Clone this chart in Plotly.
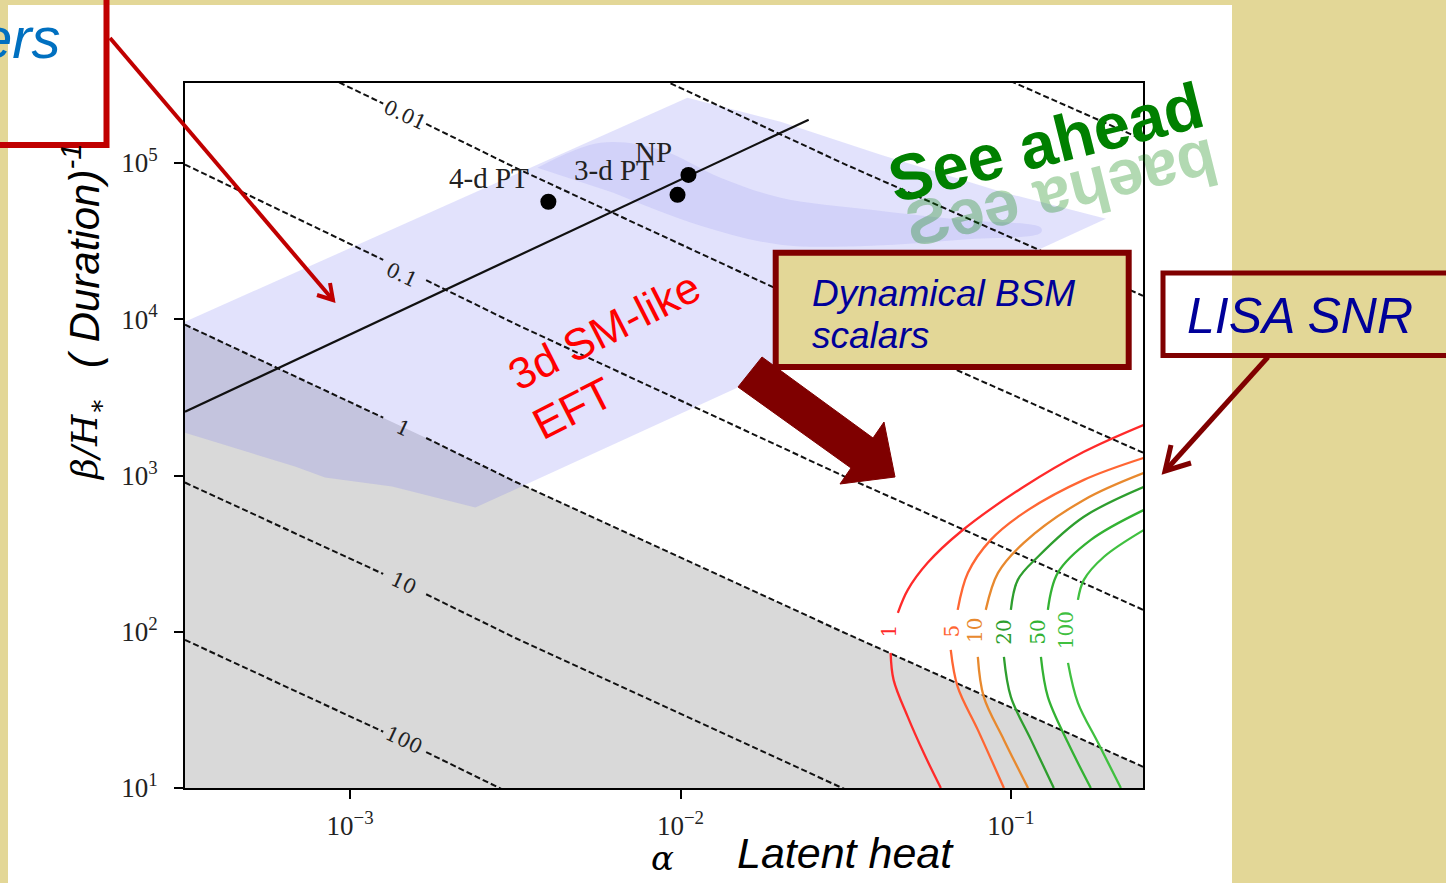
import plotly.graph_objects as go

W, H = 1446, 883
PLOT_L, PLOT_R, PLOT_T, PLOT_B = 185, 1143, 83, 788

# ---------------- data (log10 values) ----------------
X_RANGE = [-3.5, -0.6]      # log10(alpha)
Y_RANGE = [1.0, 5.512]      # log10(beta/H*)

x_tickvals = [1e-3, 1e-2, 1e-1]
x_ticktext = ["10<sup>−3</sup>", "10<sup>−2</sup>", "10<sup>−1</sup>"]
y_tickvals = [1e1, 1e2, 1e3, 1e4, 1e5]
y_ticktext = ["10<sup>1</sup>", "10<sup>2</sup>", "10<sup>3</sup>", "10<sup>4</sup>", "10<sup>5</sup>"]

# dashed lines of constant H*tau_sh (gap where the label sits)
tau_x_gap = [-3.5, -2.9, None, -2.77, -2.5, -1.5, -0.6]
tau_001_y = [5.99, 5.38, None, 5.25, 4.97, 3.99, 3.146]
tau_01_y = [4.99, 4.38, None, 4.25, 3.97, 2.99, 2.141]
tau_1_y = [3.965, 3.37, None, 3.24, 2.96, 1.99, 1.136]
tau_10_x = [-3.5, -2.9, None, -2.77, -2.5, -1.5]
tau_10_y = [2.955, 2.37, None, 2.24, 1.96, 0.99]
tau_100_x = [-3.5, -2.9, None, -2.77, -2.5]
tau_100_y = [1.948, 1.36, None, 1.23, 0.95]
tau_0001_x = [-2.5, -1.5, -0.6]
tau_0001_y = [5.97, 4.99, 4.15]
tau_00001_x = [-1.5, -0.6]
tau_00001_y = [5.99, 5.15]

tau_label_text = ["0.01", "0.1", "1", "10", "100"]
tau_label_x = [-2.833, -2.842, -2.839, -2.839, -2.836]
tau_label_y = [5.309, 4.285, 3.305, 2.313, 1.308]

# solid line
solid_x = [-3.5, -1.612]
solid_y = [3.408, 5.277]

# benchmark points
pt_x = [-2.400, -2.009, -1.976]
pt_y = [4.752, 4.796, 4.924]
pt_label_text = ["4-d PT", "3-d PT", "NP"]
pt_label_x = [-2.579, -2.200, -2.082]
pt_label_y = [4.906, 4.956, 5.072]

# blue (3d SM-like EFT) region
blue_x = [-3.5, -1.979, -1.697, -1.394, -1.030, -0.712, -2.455, -2.621, -2.873, -3.076, -3.167, -3.5]
blue_y = [3.984, 5.418, 5.264, 5.053, 4.816, 4.643, 2.955, 2.795, 2.929, 2.987, 3.057, 3.274]
band_x = [-2.433, -2.242, -2.061, -1.879, -1.697, -1.424, -1.152, -0.909,
          -0.909, -1.152, -1.424, -1.697, -1.939, -2.203]
band_y = [4.970, 5.130, 5.085, 4.906, 4.778, 4.701, 4.637, 4.586,
          4.554, 4.509, 4.471, 4.477, 4.599, 4.810]

# LISA SNR contours: upper arm, lower arm
snr_labels = ["1", "5", "10", "20", "50", "100"]
snr_colors = ["#ff2a2a", "#ff6633", "#e8892e", "#2e9e2e", "#33b233", "#40c040"]
snr_up_x = [[-0.597, -0.779, -0.961, -1.152, -1.252, -1.312, -1.342],
            [-0.597, -0.779, -0.961, -1.061, -1.130, -1.161],
            [-0.597, -0.779, -0.961, -1.039, -1.076],
            [-0.597, -0.779, -0.918, -0.979, -1.000],
            [-0.597, -0.758, -0.858, -0.888],
            [-0.597, -0.718, -0.779, -0.797]]
snr_up_y = [[3.325, 3.152, 2.928, 2.640, 2.441, 2.268, 2.121],
            [3.113, 2.972, 2.761, 2.588, 2.377, 2.140],
            [3.017, 2.844, 2.569, 2.377, 2.140],
            [2.928, 2.736, 2.480, 2.332, 2.140],
            [2.780, 2.588, 2.377, 2.140],
            [2.652, 2.480, 2.332, 2.204]]
snr_lo_x = [[-1.364, -1.355, -1.312, -1.264, -1.212],
            [-1.182, -1.161, -1.100, -1.021],
            [-1.100, -1.082, -1.021, -0.948],
            [-1.021, -1.000, -0.939, -0.870],
            [-0.909, -0.888, -0.827, -0.758],
            [-0.827, -0.797, -0.736, -0.667]]
snr_lo_y = [[1.865, 1.692, 1.455, 1.225, 1.0],
            [1.884, 1.647, 1.372, 1.0],
            [1.839, 1.583, 1.308, 1.0],
            [1.839, 1.583, 1.308, 1.0],
            [1.839, 1.583, 1.289, 1.0],
            [1.801, 1.545, 1.289, 1.0]]
snr_label_x = [-1.370, -1.179, -1.109, -1.021, -0.918, -0.833]
snr_label_y = [2.006, 2.006, 2.010, 2.000, 2.000, 2.010]


# ---------------- helpers ----------------
def p10(vals):
    return [None if v is None else 10 ** v for v in vals]


def fx(x):
    return x / W


def fy(y):
    return 1 - y / H


def path(points, close=False):
    s = " ".join(("M" if i == 0 else "L") + f" {fx(x):.5f},{fy(y):.5f}" for i, (x, y) in enumerate(points))
    return s + (" Z" if close else "")


fig = go.Figure()

# grey region below the H*tau = 1 line
g_x = [v for v in tau_x_gap if v is not None] + [X_RANGE[1], X_RANGE[0]]
g_y = [v for v in tau_1_y if v is not None] + [Y_RANGE[0], Y_RANGE[0]]
fig.add_trace(go.Scatter(x=p10(g_x), y=p10(g_y), fill="toself", fillcolor="#d9d9d9",
                         mode="lines", line=dict(width=0), hoverinfo="skip"))
fig.add_trace(go.Scatter(x=p10(blue_x), y=p10(blue_y), fill="toself", fillcolor="rgba(120,120,240,0.21)",
                         mode="lines", line=dict(width=0), hoverinfo="skip"))
fig.add_trace(go.Scatter(x=p10(band_x), y=p10(band_y), fill="toself", fillcolor="rgba(130,130,240,0.17)",
                         mode="lines", line=dict(width=0, shape="spline"), hoverinfo="skip"))

dash_style = dict(color="#111111", width=2, dash="6px,3px")
for xs, ys in [(tau_x_gap, tau_001_y), (tau_x_gap, tau_01_y), (tau_x_gap, tau_1_y),
               (tau_10_x, tau_10_y), (tau_100_x, tau_100_y),
               (tau_0001_x, tau_0001_y), (tau_00001_x, tau_00001_y)]:
    fig.add_trace(go.Scatter(x=p10(xs), y=p10(ys), mode="lines", line=dash_style, hoverinfo="skip"))

fig.add_trace(go.Scatter(x=p10(solid_x), y=p10(solid_y), mode="lines",
                         line=dict(color="#111111", width=2.2), hoverinfo="skip"))

for i in range(len(snr_labels)):
    for xs, ys in [(snr_up_x[i], snr_up_y[i]), (snr_lo_x[i], snr_lo_y[i])]:
        fig.add_trace(go.Scatter(x=p10(xs), y=p10(ys), mode="lines",
                                 line=dict(color=snr_colors[i], width=2.3, shape="spline", smoothing=1.0),
                                 hoverinfo="skip"))

fig.add_trace(go.Scatter(x=p10(pt_x), y=p10(pt_y), mode="markers",
                         marker=dict(color="black", size=16), hoverinfo="skip"))

annotations = []
for t, x, y in zip(tau_label_text, tau_label_x, tau_label_y):
    annotations.append(dict(x=x, y=y, xref="x", yref="y", text=t, showarrow=False, textangle=25,
                            font=dict(family="DejaVu Serif", size=20, color="#222")))
for t, x, y, c in zip(snr_labels, snr_label_x, snr_label_y, snr_colors):
    annotations.append(dict(x=x, y=y, xref="x", yref="y", text=t, showarrow=False, textangle=-90,
                            font=dict(family="DejaVu Serif", size=20, color=c)))
for t, x, y in zip(pt_label_text, pt_label_x, pt_label_y):
    annotations.append(dict(x=x, y=y, xref="x", yref="y", text=t, showarrow=False,
                            font=dict(family="Liberation Serif", size=29, color="#222")))


def txt(text, x, y, size, color, family="Liberation Sans", style="italic", weight="normal",
        angle=0, xanchor="center"):
    annotations.append(dict(x=fx(x), y=fy(y), xref="paper", yref="paper", text=text, showarrow=False,
                            textangle=angle, xanchor=xanchor, yanchor="middle",
                            font=dict(family=family, size=size, color=color, style=style, weight=weight)))


txt("ers", 63, 38, 58, "#0070C0", xanchor="right")
txt("( Duration)<sup>-1</sup>", 81, 256, 42, "black", angle=-90)
txt("β/H<sub>∗</sub>", 87, 440, 36, "black", family="DejaVu Serif", angle=-90)
txt("α", 662, 858, 34, "black", family="DejaVu Serif")
txt("Latent heat", 845, 853, 43, "black")
txt("Dynamical BSM", 810, 293, 37, "#000099", xanchor="left")
txt("scalars", 810, 335, 37, "#000099", xanchor="left")
txt("LISA SNR", 1185, 316, 50, "#000099", xanchor="left")
txt("3d SM-like", 604, 330, 44, "#ff0000", style="normal", angle=-27)
txt("EFT", 572, 408, 44, "#ff0000", style="normal", angle=-27)
txt("Ƨǝǝ ɐɥǝɐq", 1060, 188, 64, "rgba(0,128,0,0.30)", family="Liberation Sans, DejaVu Sans",
    style="normal", weight="bold", angle=-14)
txt("See ahead", 1046, 142, 65, "#008000", style="normal", weight="bold", angle=-14)

shapes = [
    dict(type="rect", xref="paper", yref="paper", x0=fx(8), x1=fx(1232), y0=fy(5), y1=fy(895),
         fillcolor="white", line=dict(width=0), layer="below"),
    # red box + arrow (top-left)
    dict(type="rect", xref="paper", yref="paper", x0=fx(-10), x1=fx(106.5), y0=fy(-10), y1=fy(145),
         line=dict(color="#C00000", width=6), layer="above"),
    dict(type="path", xref="paper", yref="paper", path=path([(110, 38), (333, 300)]),
         line=dict(color="#C00000", width=4), layer="above"),
    dict(type="path", xref="paper", yref="paper", path=path([(330, 283), (333, 300), (317, 295)]),
         line=dict(color="#C00000", width=4), layer="above"),
    # thick dark red block arrow
    dict(type="path", xref="paper", yref="paper",
         path=path([(762, 357), (873, 438), (884, 422), (895, 477), (840, 484), (851, 468), (738, 387)], True),
         fillcolor="#7F0000", line=dict(color="#7F0000", width=1), layer="above"),
    # Dynamical BSM box
    dict(type="rect", xref="paper", yref="paper", x0=fx(775.7), x1=fx(1128.7), y0=fy(252.7), y1=fy(367),
         fillcolor="#E3D797", line=dict(color="#800000", width=6), layer="above"),
    # LISA SNR box + arrow
    dict(type="rect", xref="paper", yref="paper", x0=fx(1163), x1=fx(1452), y0=fy(273), y1=fy(355.5),
         line=dict(color="#800000", width=5), layer="above"),
    dict(type="path", xref="paper", yref="paper", path=path([(1268, 357), (1166, 470)]),
         line=dict(color="#800000", width=5), layer="above"),
    dict(type="path", xref="paper", yref="paper", path=path([(1171, 445), (1165, 471), (1191, 463)]),
         line=dict(color="#800000", width=5), layer="above"),
]

axis_common = dict(type="log", showgrid=False, zeroline=False, showline=True, linecolor="black",
                   linewidth=2, mirror=True, ticks="outside", ticklen=9, tickwidth=2, tickcolor="black",
                   tickmode="array", automargin=False,
                   tickfont=dict(family="Liberation Serif", size=27, color="#222"))

fig.update_layout(
    width=W, height=H, autosize=False,
    margin=dict(l=0, r=0, t=0, b=0, pad=0, autoexpand=False),
    paper_bgcolor="#E3D797", plot_bgcolor="rgba(0,0,0,0)",
    showlegend=False,
    xaxis=dict(axis_common, domain=[PLOT_L / W, PLOT_R / W], range=X_RANGE,
               tickvals=x_tickvals, ticktext=x_ticktext, ticklabelstandoff=4),
    yaxis=dict(axis_common, domain=[(H - PLOT_B) / H, (H - PLOT_T) / H], range=Y_RANGE,
               tickvals=y_tickvals, ticktext=y_ticktext, ticklabelstandoff=11),
    annotations=annotations,
    shapes=shapes,
)

fig.write_html("out.html")
